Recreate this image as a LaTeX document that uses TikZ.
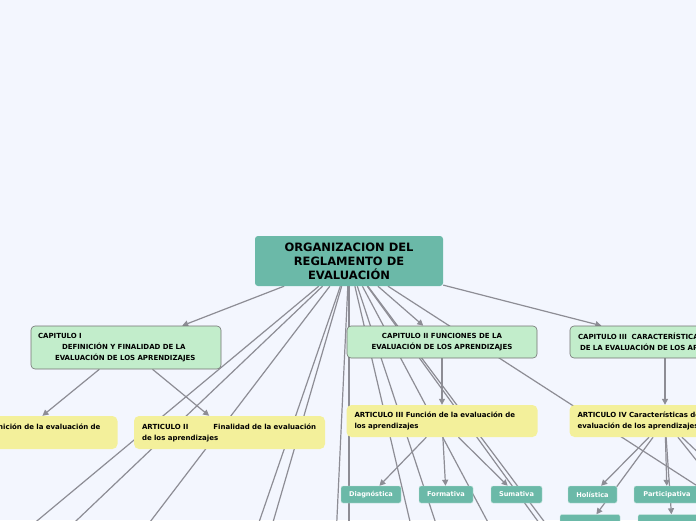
\documentclass[tikz,border=0pt]{standalone}
\usepackage{fontspec}
\setmainfont{DejaVu Sans}
\usetikzlibrary{arrows.meta,backgrounds}
\definecolor{pagebg}{HTML}{F3F6FE}
\definecolor{topicfill}{HTML}{6BB9A8}
\definecolor{chapfill}{HTML}{C2EDCB}
\definecolor{artfill}{HTML}{F3F09B}
\definecolor{linegray}{HTML}{8D8D95}
\begin{document}
\begin{tikzpicture}[x=1pt,y=-1pt,
		topic/.style={
			fill=topicfill,
			rounded corners=3pt,
			minimum width=188pt,
			minimum height=50pt,
			align=center,
			inner sep=0pt,
			font=\fontsize{11.5}{14}\selectfont\bfseries
		},
		chapter/.style={
			draw=black!55,
			line width=0.6pt,
			fill=chapfill,
			rounded corners=4pt,
			minimum width=190pt,
			minimum height=32pt,
			inner sep=0pt,
			font=\fontsize{7}{11}\selectfont\bfseries
		},
		article/.style={
			fill=artfill,
			rounded corners=5pt,
			text width=175pt,
			inner xsep=8pt,
			minimum height=33pt,
			align=left,
			font=\fontsize{7}{11}\selectfont\bfseries
		},
		leaf/.style={
			fill=topicfill,
			draw=white!60!topicfill,
			rounded corners=2pt,
			minimum height=17pt,
			inner sep=0pt,
			text=white,
			font=\fontsize{6.6}{8}\selectfont\bfseries
		},
		branch/.style={draw=linegray,line width=1.2pt},
		relation/.style={branch,-{Triangle[length=6pt,width=6pt]}}
		]
		\useasboundingbox (0,0) rectangle (696,520);
		% main topic and chapters
		\node[topic] (root) at (349,261) {ORGANIZACION DEL\\REGLAMENTO DE\\ EVALUACIÓN};
		\node[chapter,minimum height=43pt,text width=176pt,align=left] (cap1) at (126,347.5)
		{CAPITULO I\\\hspace*{24pt}DEFINICIÓN Y FINALIDAD DE LA\\\hspace*{17pt}EVALUACIÓN DE LOS APRENDIZAJES};
		\node[chapter,align=center] (cap2) at (442,342) {CAPITULO II FUNCIONES DE LA\\EVALUACIÓN DE LOS APRENDIZAJES};
		\node[chapter,text width=174pt,align=left] (cap3) at (665,342) {CAPITULO III\ \ CARACTERÍSTICAS\\\hspace*{2pt}DE LA EVALUACIÓN DE LOS APRENDIZAJES};
		% articles
		\node[article] (art1) at (22,432.5) {ARTICULO I\hspace{0.6em}Definición de la evaluación de\\los aprendizajes};
		\node[article] (art2) at (229.5,432.5) {ARTICULO II\hspace{25pt}Finalidad de la evaluación\\de los aprendizajes};
		\node[article,minimum height=32pt] (art3) at (442,421) {ARTICULO III Función de la evaluación de\\los aprendizajes};
		\node[article,minimum height=32pt] (art4) at (665,421) {ARTICULO IV Características de la\\evaluación de los aprendizajes};
		% leaves
		\node[leaf,minimum width=60pt] (diag) at (371,494.5) {Diagnóstica};
		\node[leaf,minimum width=54pt] (form) at (446,494.5) {Formativa};
		\node[leaf,minimum width=51pt] (suma) at (516.5,494.5) {Sumativa};
		\node[leaf,minimum width=49pt] (holi) at (592.5,494.5) {Holística};
		\node[leaf,minimum width=66pt] (part) at (667,494.5) {Participativa};
		\node[leaf,minimum width=60pt] (holisub) at (590,523) {};
		\node[leaf,minimum width=68pt] (partsub) at (672,523) {};
		% branches leaving the picture
		\coordinate (tA) at (-10,560);
		\coordinate (tB) at (35,560);
		\coordinate (tC) at (121,560);
		\coordinate (tD) at (246,560);
		\coordinate (tE) at (262,560);
		\coordinate (tF) at (335,560);
		\coordinate (tG) at (349,560);
		\coordinate (tH) at (419,560);
		\coordinate (tI) at (448,560);
		\coordinate (tJ) at (508,560);
		\coordinate (tK) at (566,560);
		\coordinate (tL) at (573,560);
		\coordinate (tN) at (812,560);
		\coordinate (tR) at (760,540);
		\coordinate (tS) at (790,540);
		
		\begin{scope}[on background layer]
			\fill[pagebg] (0,0) rectangle (696,520);
			\foreach \t in {tA,tB,tC,tD,tE,tF,tG,tH,tI,tJ,tK,tL,tN}
			\draw[branch] (root) -- (\t);
			\draw[relation] (root) -- (cap1);
			\draw[relation] (root) -- (cap2);
			\draw[relation] (root) -- (cap3);
			\draw[relation] (cap1) -- (art1);
			\draw[relation] (cap1) -- (art2);
			\draw[relation] (cap2) -- (art3);
			\draw[relation] (cap3) -- (art4);
			\draw[relation] (art3) -- (diag);
			\draw[relation] (art3) -- (form);
			\draw[relation] (art3) -- (suma);
			\draw[relation] (art4) -- (holi);
			\draw[relation] (art4) -- (holisub);
			\draw[relation] (art4) -- (part);
			\draw[relation] (art4) -- (partsub);
			\draw[branch] (art4) -- (tR);
			\draw[branch] (art4) -- (tS);
		\end{scope}
	\end{tikzpicture}
\end{document}
